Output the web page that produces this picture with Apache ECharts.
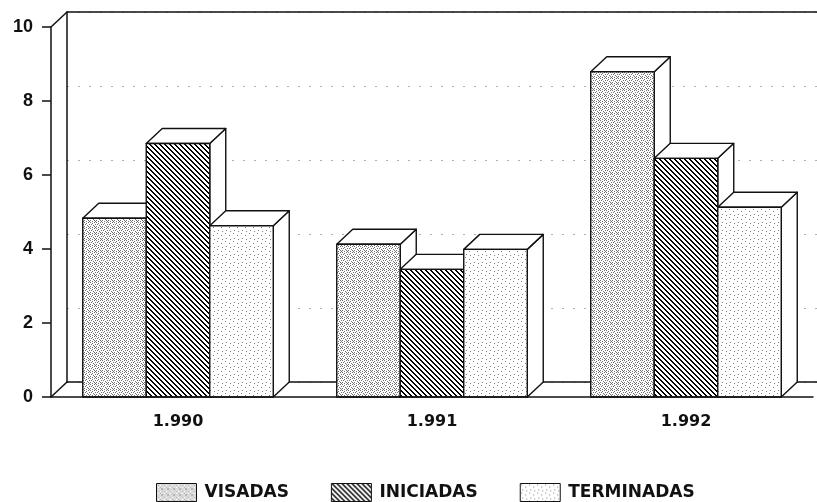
<!DOCTYPE html>
<html>
<head>
<meta charset="utf-8">
<script src="https://cdn.jsdelivr.net/npm/echarts@6/dist/echarts.min.js"></script>
<style>
html,body{margin:0;padding:0;background:#fff;}
#chart{width:817px;height:502px;}
</style>
</head>
<body>
<div id="chart"></div>
<script>
// ---- data ----
var categories = ['1.990', '1.991', '1.992'];
var seriesNames = ['VISADAS', 'INICIADAS', 'TERMINADAS'];
var visadas = [4.83, 4.13, 8.79];
var iniciadas = [6.85, 3.45, 6.45];
var terminadas = [4.63, 3.99, 5.13];
var yTicks = [0, 2, 4, 6, 8, 10];

// ---- layout / style ----
var GRID_LEFT = 51, GRID_TOP = 27, GRID_W = 762, GRID_H = 370;
var DX = 16, DY = 15;
var INK = '#111';

function makePattern(kind) {
  var c = document.createElement('canvas');
  var ctx = c.getContext('2d');
  var s, x, y;
  if (kind === 'hatch') {
    s = 5;
    c.width = s; c.height = s;
    ctx.fillStyle = '#fff'; ctx.fillRect(0, 0, s, s);
    ctx.fillStyle = '#000';
    for (y = 0; y < s; y++) {
      for (x = 0; x < s; x++) {
        if ((((x - y) % s) + s) % s < 2) ctx.fillRect(x, y, 1, 1);
      }
    }
  } else if (kind === 'dense') {
    c.width = 6; c.height = 6;
    ctx.fillStyle = '#fff'; ctx.fillRect(0, 0, 6, 6);
    ctx.fillStyle = '#707070';
    var pts = [[0,0],[2,1],[4,0],[1,2],[3,3],[5,2],[0,4],[2,5],[4,4],[5,5]];
    pts.forEach(function (p) { ctx.fillRect(p[0], p[1], 1, 1); });
  } else {
    c.width = 8; c.height = 8;
    ctx.fillStyle = '#fff'; ctx.fillRect(0, 0, 8, 8);
    ctx.fillStyle = '#808080';
    var pts2 = [[1,1],[5,3],[2,6],[6,7]];
    pts2.forEach(function (p) { ctx.fillRect(p[0], p[1], 1, 1); });
  }
  return { image: c, repeat: 'repeat' };
}
var patterns = [makePattern('dense'), makePattern('hatch'), makePattern('sparse')];
var values = [visadas, iniciadas, terminadas];

function makeRender(si) {
  return function (params, api) {
    var cat = api.value(0), v = api.value(1);
    var top = api.coord([cat, v]);
    var base = api.coord([cat, 0]);
    var band = api.size([1, 0])[0];
    var bw = band * 0.25;
    var x0 = top[0] - 1.5 * bw + si * bw, x1 = x0 + bw;
    var yT = top[1], yB = base[1];
    var st = { stroke: INK, lineWidth: 1.4, lineJoin: 'round' };
    return {
      type: 'group',
      children: [
        { type: 'polygon', shape: { points: [[x1, yB], [x1 + DX, yB - DY], [x1 + DX, yT - DY], [x1, yT]] },
          style: Object.assign({ fill: '#fff' }, st) },
        { type: 'polygon', shape: { points: [[x0, yT], [x0 + DX, yT - DY], [x1 + DX, yT - DY], [x1, yT]] },
          style: Object.assign({ fill: '#fff' }, st) },
        { type: 'rect', shape: { x: x0, y: yT, width: bw, height: yB - yT },
          style: Object.assign({ fill: patterns[si] }, st) }
      ]
    };
  };
}

var series = seriesNames.map(function (name, si) {
  return {
    name: name,
    type: 'custom',
    xAxisIndex: 0, yAxisIndex: 0,
    renderItem: makeRender(si),
    itemStyle: { color: patterns[si], borderColor: INK, borderWidth: 1 },
    encode: { x: 0, y: 1 },
    data: values[si].map(function (v, i) { return [i, v]; }),
    z: 3
  };
});

var chart = echarts.init(document.getElementById('chart'), null, { renderer: 'canvas' });
var option = {
  animation: false,
  backgroundColor: '#fff',
  grid: [
    { left: GRID_LEFT, top: GRID_TOP, width: GRID_W, height: GRID_H },
    { left: GRID_LEFT + DX, top: GRID_TOP - DY, width: GRID_W, height: GRID_H }
  ],
  xAxis: [
    { type: 'category', gridIndex: 0, data: categories, boundaryGap: true,
      axisLine: { lineStyle: { color: INK, width: 1.5 } },
      axisTick: { alignWithLabel: true, length: 9, lineStyle: { color: INK, width: 1.5 } },
      axisLabel: { color: '#111', fontFamily: 'DejaVu Sans', fontWeight: 'bold', fontSize: 16, margin: 17 },
      splitLine: { show: false }, z: 4 },
    { type: 'value', gridIndex: 1, min: 0, max: 1, position: 'bottom',
      axisLine: { lineStyle: { color: INK, width: 1.5 } }, axisTick: { show: false },
      axisLabel: { show: false }, splitLine: { show: false } },
    { type: 'value', gridIndex: 1, min: 0, max: 1, position: 'top',
      axisLine: { lineStyle: { color: INK, width: 1.5 } }, axisTick: { show: false },
      axisLabel: { show: false }, splitLine: { show: false } }
  ],
  yAxis: [
    { type: 'value', gridIndex: 0, min: yTicks[0], max: yTicks[yTicks.length - 1], interval: 2,
      axisLine: { show: true, lineStyle: { color: INK, width: 1.5 } },
      axisTick: { show: true, length: 9, lineStyle: { color: INK, width: 1.5 } },
      axisLabel: { color: '#111', fontFamily: 'Liberation Sans', fontWeight: 'bold', fontSize: 18, margin: 18 },
      splitLine: { show: false }, z: 4 },
    { type: 'value', gridIndex: 1, min: yTicks[0], max: yTicks[yTicks.length - 1], interval: 2,
      axisLine: { show: true, lineStyle: { color: INK, width: 1.5 } },
      axisTick: { show: false }, axisLabel: { show: false },
      splitLine: { show: true, lineStyle: { color: '#b0b0b0', width: 1, type: [2, 9] } } }
  ],
  legend: {
    data: seriesNames,
    left: 151, top: 478,
    icon: 'rect', itemWidth: 40, itemHeight: 18, itemGap: 42,
    itemStyle: { borderColor: INK, borderWidth: 1 },
    textStyle: { color: '#111', fontFamily: 'DejaVu Sans', fontWeight: 'bold', fontSize: 17, padding: [6, 0, 0, 3] }
  },
  series: series
};
chart.setOption(option);

// frame diagonals (derived from the axes)
var y0 = chart.convertToPixel({ yAxisIndex: 0 }, yTicks[0]);
var y10 = chart.convertToPixel({ yAxisIndex: 0 }, yTicks[yTicks.length - 1]);
chart.setOption({
  graphic: [
    { type: 'line', shape: { x1: GRID_LEFT, y1: y10, x2: GRID_LEFT + DX, y2: y10 - DY }, style: { stroke: INK, lineWidth: 1.5 }, z: 5 },
    { type: 'line', shape: { x1: GRID_LEFT, y1: y0, x2: GRID_LEFT + DX, y2: y0 - DY }, style: { stroke: INK, lineWidth: 1.5 }, z: 5 }
  ]
});
</script>
</body>
</html>
